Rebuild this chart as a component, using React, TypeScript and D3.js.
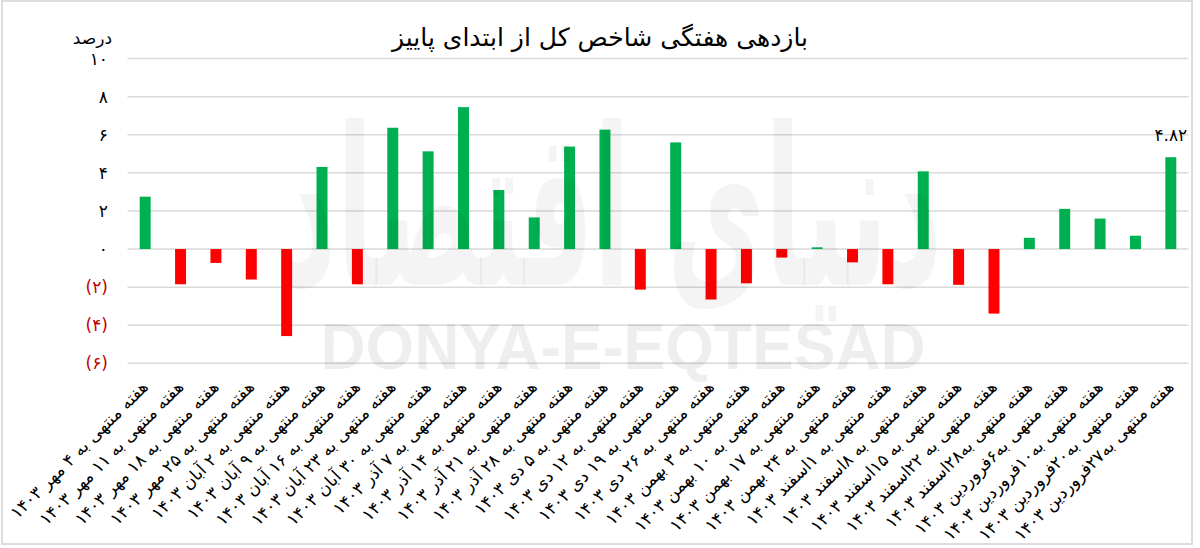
import React, { useEffect, useRef } from 'react';
import * as d3 from 'd3';

// weekly return of the TEDPIX index since the start of autumn (percent)
const weeks = [
  'هفته منتهی به ۴ مهر',
  'هفته منتهی به ۱۱ مهر',
  'هفته منتهی به ۱۸ مهر',
  'هفته منتهی به ۲۵ مهر',
  'هفته منتهی به ۲ آبان',
  'هفته منتهی به ۹ آبان',
  'هفته منتهی به ۱۶ آبان',
  'هفته منتهی به ۲۳ آبان',
  'هفته منتهی به ۳۰ آبان',
  'هفته منتهی به ۷ آذر',
  'هفته منتهی به ۱۴ آذر',
  'هفته منتهی به ۲۱ آذر',
  'هفته منتهی به ۲۸ آذر',
  'هفته منتهی به ۵ دی',
  'هفته منتهی به ۱۲ دی',
  'هفته منتهی به ۱۹ دی',
  'هفته منتهی به ۲۶ دی',
  'هفته منتهی به ۳ بهمن',
  'هفته منتهی به ۱۰ بهمن',
  'هفته منتهی به ۱۷ بهمن',
  'هفته منتهی به ۲۴ بهمن',
  'هفته منتهی به ۱اسفند',
  'هفته منتهی به ۸اسفند',
  'هفته منتهی به ۱۵اسفند',
  'هفته منتهی به ۲۲اسفند',
  'هفته منتهی به۲۸اسفند',
  'هفته منتهی به۶فروردین',
  'هفته منتهی به۱۰فروردین',
  'هفته منتهی به۲۰فروردین',
  'هفته منتهی به۲۷فروردین',
];
const yearLabel = '۱۴۰۳';

const returns = [
  2.75, -1.85, -0.73, -1.6, -4.57, 4.31, -1.85, 6.37, 5.13, 7.45,
  3.1, 1.66, 5.38, 6.27, -2.13, 5.6, -2.65, -1.8, -0.45, 0.09,
  -0.7, -1.85, 4.08, -1.88, -3.39, 0.59, 2.11, 1.6, 0.7, 4.82,
];

const yTicks = [10, 8, 6, 4, 2, 0, -2, -4, -6];

const title = 'بازدهی هفتگی شاخص کل از ابتدای پاییز';
const unitLabel = 'درصد';

const faDigits = '۰۱۲۳۴۵۶۷۸۹';
const toFa = (s: string) => s.replace(/[0-9]/g, (d) => faDigits[+d]);

const FONT = '"DejaVu Sans", sans-serif';

const App: React.FC = () => {
  const ref = useRef<SVGSVGElement | null>(null);

  useEffect(() => {
    if (!ref.current) return;
    const width = 1200;
    const height = 548;

    const svg = d3.select(ref.current).attr('width', width).attr('height', height);
    svg.selectAll('*').remove();

    svg.append('rect').attr('width', width).attr('height', height).attr('fill', '#ffffff');
    // thin frame around the picture
    svg.append('rect')
      .attr('x', 2).attr('y', 1).attr('width', 1190).attr('height', 543)
      .attr('fill', 'none').attr('stroke', '#dcdcdc').attr('stroke-width', 2);

    const x = d3.scaleBand<number>()
      .domain(d3.range(returns.length))
      .range([127.5, 1188.5])
      .paddingInner(0.69)
      .paddingOuter(0.345);

    const y = d3.scaleLinear().domain([-6, 10]).range([363.3, 58.6]);

    // gridlines
    svg.append('g')
      .selectAll('line')
      .data(yTicks)
      .enter().append('line')
      .attr('x1', 127.5)
      .attr('x2', 1188.5)
      .attr('y1', (d) => y(d))
      .attr('y2', (d) => y(d))
      .attr('stroke', '#d9d9d9')
      .attr('stroke-width', 1.5);

    // y labels
    svg.append('g')
      .selectAll('text')
      .data(yTicks)
      .enter().append('text')
      .attr('x', 108)
      .attr('y', (d) => y(d) + 6)
      .attr('text-anchor', 'end')
      .style('font-family', FONT)
      .style('font-size', '17px')
      .style('fill', (d) => (d < 0 ? '#c00000' : '#000'))
      .text((d) => (d < 0 ? `(${toFa(String(-d))})` : toFa(String(d))));

    svg.append('text')
      .attr('x', 112)
      .attr('y', 44)
      .attr('text-anchor', 'end')
      .style('font-family', FONT)
      .style('font-size', '17px')
      .text(unitLabel);

    // watermark (under the bars, faint)
    const wm = svg.append('g').style('pointer-events', 'none');
    wm.append('text')
      .attr('x', 612)
      .attr('y', 285)
      .attr('text-anchor', 'middle')
      .attr('textLength', 660)
      .attr('lengthAdjust', 'spacingAndGlyphs')
      .style('font-family', FONT)
      .style('font-weight', 'bold')
      .style('font-size', '220px')
      .style('fill', '#000')
      .style('fill-opacity', 0.045)
      .text('دنیای اقتصاد');

    // bars
    svg.append('g')
      .selectAll('rect')
      .data(returns)
      .enter().append('rect')
      .attr('x', (_, i) => x(i) || 0)
      .attr('width', x.bandwidth())
      .attr('y', (d) => y(Math.max(0, d)))
      .attr('height', (d) => Math.abs(y(d) - y(0)))
      .attr('fill', (d) => (d >= 0 ? '#00b050' : '#ff0000'));

    // label on last bar
    const last = returns.length - 1;
    svg.append('text')
      .attr('x', (x(last) || 0) + x.bandwidth() / 2)
      .attr('y', y(returns[last]) - 16)
      .attr('text-anchor', 'middle')
      .style('font-family', FONT)
      .style('font-size', '17px')
      .text(toFa(returns[last].toFixed(2)));

    // category labels, rotated
    svg.append('g')
      .selectAll('text')
      .data(weeks)
      .enter().append('text')
      .attr('transform', (_, i) => `translate(${(x(i) || 0) + x.bandwidth() / 2 + 4},${388}) rotate(-45)`)
      .attr('text-anchor', 'end')
      .style('font-family', FONT)
      .style('font-size', '17px')
      .text((d) => `${d} ${yearLabel}`);

    // title
    svg.append('text')
      .attr('x', 600)
      .attr('y', 46)
      .attr('text-anchor', 'middle')
      .style('font-family', FONT)
      .style('font-size', '25px')
      .text(title);

    wm.raise();
    wm.append('text')
      .attr('x', 623)
      .attr('y', 369)
      .attr('text-anchor', 'middle')
      .attr('textLength', 605)
      .attr('lengthAdjust', 'spacingAndGlyphs')
      .style('font-family', '"Liberation Sans", sans-serif')
      .style('font-weight', 'bold')
      .style('font-size', '64px')
      .style('fill', '#000')
      .style('fill-opacity', 0.065)
      .text('DONYA-E-EQTESAD');
  }, []);

  return (
    <svg ref={ref} style={{ position: 'absolute', left: 0, top: 0, display: 'block' }} />
  );
};

export default App;
